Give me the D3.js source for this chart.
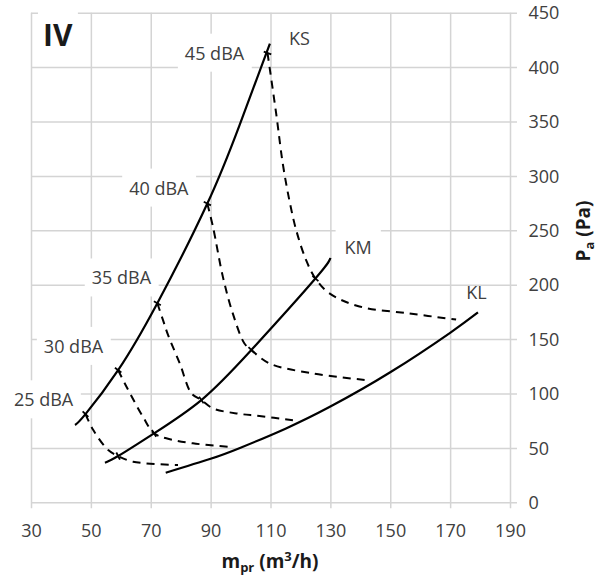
<!DOCTYPE html>
<html>
<head>
<meta charset="utf-8">
<script src="https://cdn.jsdelivr.net/npm/d3@7"></script>
<style>
  html, body { margin: 0; padding: 0; background: #fff; }
  svg { display: block; font-family: "Open Sans", "Noto Sans", sans-serif; }
</style>
</head>
<body>
<script>
// ---------- data ----------
const xTicks = [30, 50, 70, 90, 110, 130, 150, 170, 190];
const yTicks = [0, 50, 100, 150, 200, 250, 300, 350, 400, 450];

// solid characteristic curves [m_pr, Pa]
const curveKS = [[44.7, 71], [48.2, 81], [59.1, 121.5], [72.2, 183], [88.9, 274.6], [99.7, 347], [109.8, 421.5]];
const curveKM = [[54.7, 36.4], [59.1, 42.5], [71.1, 63.4], [86.9, 94], [103.6, 140], [125, 205.7], [130, 224.6]];
const curveKL = [[75, 27.2], [90, 40], [100, 50.2], [115, 67.7], [130, 88], [150, 119.5], [170, 155.8], [179.3, 174.5]];

// dashed iso-noise lines [m_pr, Pa]
const dBA25 = [[48.2, 81], [50.8, 66.4], [55.8, 48], [59.1, 42.5], [64.1, 37.3], [79.1, 34.3]];
const dBA30 = [[59.1, 121.5], [61.9, 106.2], [67.4, 78.6], [71.1, 63.4], [75.2, 58.8], [84.1, 54.2], [96.3, 51]];
const dBA35 = [[72.2, 183], [74.1, 167.4], [75.8, 153.6], [79.7, 127.6], [83.6, 100.1], [86.9, 94], [90.8, 86.3], [98.6, 81.7], [106.3, 79.3], [117.5, 75.5]];
const dBA40 = [[88.9, 274.6], [90.8, 253], [94.1, 207.2], [97.4, 173.6], [101.3, 146], [103.6, 140], [109.7, 127.6], [124.1, 118.5], [141.5, 112.5]];
const dBA45 = [[109, 413], [111.9, 357.2], [114.1, 311.3], [116.3, 277.6], [118.6, 250], [121.9, 222.5], [125, 205.7], [129.7, 192], [139.7, 180], [156.3, 173.6], [172, 168]];

// crossing marks on the solid curves
const marksKS = [[48.2, 81], [59.1, 121.5], [72.2, 183], [88.9, 274.6], [109, 413]];
const marksKM = [[59.1, 42.5], [71.1, 63.4], [86.9, 94], [103.6, 140], [125, 205.7]];

// labels and their anchor points (data units)
const dbaNames = ["25 dBA", "30 dBA", "35 dBA", "40 dBA", "45 dBA"];
const dbaAt = [[34.2, 94], [44.2, 143.1], [60.2, 206], [72.7, 288.6], [91.3, 412.6]];
const curveNames = ["KS", "KM", "KL"];
const curveNameAt = [[119.7, 425.9], [139.3, 234], [178.8, 192.7]];
const curveNameBoxed = [true, true, false];
const panelLabel = "IV";

// ---------- chart ----------
const W = 605, H = 578;
const svg = d3.select("body").append("svg").attr("width", W).attr("height", H);

const x = d3.scaleLinear().domain([30, 190]).range([31, 510]);
const y = d3.scaleLinear().domain([0, 450]).range([502.3, 12.7]);

const gridColor = "#d4d4d4";
const textColor = "#404040";

// vertical grid + bottom ticks
const xAxis = d3.axisBottom(x).tickValues(xTicks).tickSize(-(y(0) + 6 - y(450))).tickPadding(16);
const gx = svg.append("g").attr("transform", `translate(0,${y(0) + 6})`).call(xAxis);
gx.select(".domain").remove();
gx.selectAll(".tick line").attr("stroke", gridColor).attr("stroke-width", 1.5);
gx.selectAll(".tick text").attr("fill", textColor).attr("font-size", 18)
  .attr("font-family", "Open Sans").attr("dy", "0.71em");

// horizontal grid + right ticks
const yAxis = d3.axisRight(y).tickValues(yTicks).tickSize(-(x(190) + 7 - x(30))).tickPadding(11.5);
const gy = svg.append("g").attr("transform", `translate(${x(190) + 7},0)`).call(yAxis);
gy.select(".domain").remove();
gy.selectAll(".tick line").attr("stroke", gridColor).attr("stroke-width", 1.5);
gy.selectAll(".tick text").attr("fill", textColor).attr("font-size", 18)
  .attr("font-family", "Open Sans").attr("dy", "0.34em");

// label layer (white boxes hide grid)
const labelLayer = svg.append("g");
function boxedText(tx, ty, txt, opts) {
  const g = labelLayer.append("g");
  const rect = g.append("rect").attr("fill", "#fff");
  const t = g.append("text").attr("x", tx).attr("y", ty)
    .attr("text-anchor", opts.anchor || "middle")
    .attr("dy", opts.dy || "0.35em")
    .attr("font-size", opts.size || 18)
    .attr("font-weight", opts.weight || "normal")
    .attr("fill", opts.fill || textColor)
    .text(txt);
  if (opts.boxed) {
    const b = t.node().getBBox();
    const px = opts.padX == null ? 7 : opts.padX, py = opts.padY == null ? 7 : opts.padY;
    rect.attr("x", b.x - px).attr("y", b.y - py).attr("width", b.width + 2 * px).attr("height", b.height + 2 * py);
  } else rect.remove();
}

dbaNames.forEach((n, i) => boxedText(x(dbaAt[i][0]), y(dbaAt[i][1]), n, { boxed: true }));
curveNames.forEach((n, i) => boxedText(x(curveNameAt[i][0]), y(curveNameAt[i][1]), n, { boxed: curveNameBoxed[i], padX: 9 }));
boxedText(x(34), y(419), panelLabel, { boxed: true, anchor: "start", dy: "0", size: 30, weight: "bold", fill: "#1a1a1a", padX: 5, padY: 4 });

// curves
const dashLine = d3.line().x(d => x(d[0])).y(d => y(d[1])).curve(d3.curveCatmullRom.alpha(0.5));
const solidLine = d3.line().x(d => x(d[0])).y(d => y(d[1])).curve(d3.curveNatural);
const curveLayer = svg.append("g").attr("fill", "none").attr("stroke", "#000");
[dBA25, dBA30, dBA35, dBA40, dBA45].forEach(s => {
  curveLayer.append("path").attr("d", dashLine(s)).attr("stroke-width", 2).attr("stroke-dasharray", "8,6");
});
[curveKS, curveKM, curveKL].forEach(s => {
  curveLayer.append("path").attr("d", solidLine(s)).attr("stroke-width", 2.2);
});

// crossing marks: short segments perpendicular to the solid curve
function drawMarks(marks, curve) {
  marks.forEach(m => {
    let i = curve.findIndex(p => p[0] >= m[0]);
    if (i <= 0) i = 1;
    const a = curve[i - 1], b = curve[Math.min(i, curve.length - 1)];
    const dx = x(b[0]) - x(a[0]), dy = y(b[1]) - y(a[1]);
    const L = Math.hypot(dx, dy) || 1;
    const nx = -dy / L, ny = dx / L;
    const cx = x(m[0]), cy = y(m[1]);
    curveLayer.append("line")
      .attr("x1", cx - nx * 4).attr("y1", cy - ny * 4)
      .attr("x2", cx + nx * 4).attr("y2", cy + ny * 4)
      .attr("stroke-width", 1.8);
  });
}
drawMarks(marksKS, curveKS);
drawMarks(marksKM, curveKM);

// axis titles
const xt = svg.append("text").attr("x", 270).attr("y", 568).attr("text-anchor", "middle")
  .attr("font-size", 19).attr("font-weight", "bold").attr("fill", "#1a1a1a");
xt.append("tspan").text("m");
xt.append("tspan").attr("font-size", 13).attr("dy", 4).text("pr");
xt.append("tspan").attr("dy", -4).text(" (m");
xt.append("tspan").attr("font-size", 13).attr("dy", -7).text("3");
xt.append("tspan").attr("dy", 7).text("/h)");

const yt = svg.append("text").attr("transform", `translate(590,231) rotate(-90)`).attr("text-anchor", "middle")
  .attr("font-size", 19).attr("font-weight", "bold").attr("fill", "#1a1a1a");
yt.append("tspan").text("P");
yt.append("tspan").attr("font-size", 13).attr("dy", 4).text("a");
yt.append("tspan").attr("dy", -4).text(" (Pa)");
</script>
</body>
</html>
